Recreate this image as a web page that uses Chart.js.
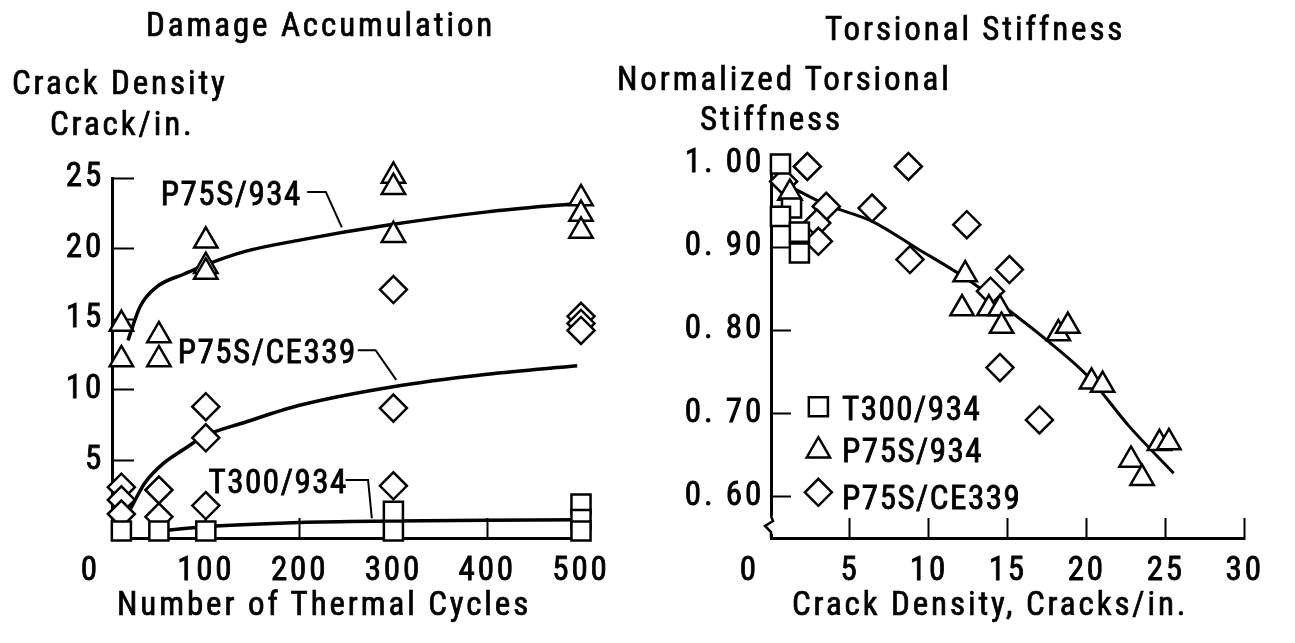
<!DOCTYPE html>
<html>
<head>
<meta charset="utf-8">
<script src="https://cdn.jsdelivr.net/npm/chart.js@4.4.1/dist/chart.umd.min.js"></script>
<style>
body { margin:0; background:#fff; width:1295px; height:643px; overflow:hidden; position:relative;
  font-family:Roboto, 'DejaVu Sans', sans-serif; font-stretch:condensed; }
canvas { position:absolute; top:0; }
#left { left:0; }
#right { left:640px; }
.txt { position:absolute; font-size:33px; line-height:30px; letter-spacing:2.9px; white-space:nowrap; color:#000;
  -webkit-text-stroke:0.7px #000; }
</style>
</head>
<body>
<canvas id="left" width="640" height="643"></canvas>
<canvas id="right" width="655" height="643"></canvas>
<div class="txt" style="left:146px; top:10px">Damage Accumulation</div>
<div class="txt" style="left:825px; top:14px">Torsional Stiffness</div>
<div class="txt" style="left:12px; top:68px">Crack Density</div>
<div class="txt" style="left:50px; top:109px">Crack/in.</div>
<div class="txt" style="left:617px; top:64px">Normalized Torsional</div>
<div class="txt" style="left:700px; top:104px">Stiffness</div>
<div class="txt" style="left:117px; top:589px">Number of Thermal Cycles</div>
<div class="txt" style="left:792px; top:589px">Crack Density, Cracks/in.</div>
<script>
// left panel: crack density vs thermal cycles
var t300Cycles = [10, 50, 100, 300, 300, 500, 500, 500];
var t300Density = [0, 0, 0, 1.4, 0, 1.9, 0.8, 0];
var p75Cycles = [10, 10, 50, 50, 100, 100, 100, 300, 300, 300, 500, 500, 500];
var p75Density = [14.65, 12.15, 13.85, 12.15, 20.55, 18.75, 18.35, 25.15, 24.35, 20.95, 23.55, 22.45, 21.25];
var ce339Cycles = [10, 10, 10, 50, 50, 100, 100, 100, 300, 300, 300, 500, 500, 500];
var ce339Density = [3.1, 2.2, 1.2, 2.9, 1.0, 8.8, 6.6, 1.8, 17.1, 8.7, 3.2, 15.2, 14.7, 14.2];

var p75FitCycles = [17, 30, 48, 77, 98, 142, 200, 298, 400, 496];
var p75FitDensity = [13.5, 15.9, 17.3, 18.2, 18.8, 19.8, 20.6, 21.7, 22.6, 23.2];
var ce339FitCycles = [20, 35, 55, 77, 98, 142, 200, 298, 400, 496];
var ce339FitDensity = [1.6, 3.4, 4.8, 5.8, 6.7, 7.7, 8.9, 10.2, 11.1, 11.7];
var t300FitCycles = [50, 100, 200, 300, 400, 500];
var t300FitDensity = [0, 0.3, 0.6, 0.7, 0.75, 0.8];

var cycleTicks = [100, 200, 300, 400, 500];
var densityTicks = [5, 10, 15, 20, 25];

// right panel: normalized stiffness vs crack density
var t300Crack = [0.6, 1.3, 0.6, 1.8, 1.8];
var t300Stiff = [1.00, 0.947, 0.937, 0.918, 0.893];
var p75Crack = [1.2, 12.3, 12.1, 13.8, 14.5, 14.6, 18.2, 18.8, 20.3, 21.0, 22.8, 23.5, 24.6, 25.2];
var p75Stiff = [0.965, 0.867, 0.826, 0.826, 0.826, 0.805, 0.796, 0.805, 0.738, 0.734, 0.644, 0.622, 0.664, 0.665];
var ce339Crack = [0.8, 2.3, 8.7, 3.5, 6.4, 2.9, 3.0, 12.4, 8.8, 15.1, 13.9, 14.5, 17.0];
var ce339Stiff = [0.979, 0.997, 0.997, 0.949, 0.947, 0.929, 0.907, 0.927, 0.885, 0.873, 0.847, 0.755, 0.692];
var stiffFitCrack = [1.0, 3.5, 6.4, 9.2, 12.3, 15.0, 17.6, 20.1, 22.7, 25.5];
var stiffFitValue = [0.975, 0.951, 0.931, 0.899, 0.863, 0.825, 0.786, 0.744, 0.684, 0.628];

var crackTicks = [5, 10, 15, 20, 25, 30];
var stiffTicks = [0.6, 0.7, 0.8, 0.9, 1.0];

var fontFamily = "Roboto, 'DejaVu Sans', sans-serif";
var fontWeight = 'condensed';   // goes into the canvas font shorthand
var canvasFont = fontWeight + ' 33px ' + fontFamily;
Chart.defaults.font.family = fontFamily;
Chart.defaults.font.weight = fontWeight;
Chart.defaults.font.size = 33;
Chart.defaults.color = '#000';

function pts(xs, ys) {
  return xs.map(function(x, i){ return {x: x, y: ys[i]}; });
}
function markerSet(label, xs, ys, style) {
  return {label: label, data: pts(xs, ys), pointStyle: style, pointRadius: 13.5, pointBorderWidth: 2.5,
    pointBorderColor: '#000', pointBackgroundColor: '#fff', showLine: false, clip: false, order: 0};
}
function fitSet(xs, ys, w) {
  return {type: 'line', data: pts(xs, ys), borderColor: '#000', borderWidth: w, pointRadius: 0,
    cubicInterpolationMode: 'monotone', fill: false, clip: false, order: 1};
}
function fixedTicks(list) {
  return function(s){ s.ticks = list.map(function(v){ return {value: v}; }); };
}
function axis(opts) {
  return Object.assign({
    type: 'linear',
    border: {display: true, color: '#000', width: 3}
  }, opts);
}
function drawText(ctx, text, x, y, align, gap) {
  ctx.save();
  ctx.font = canvasFont;
  if ('letterSpacing' in ctx) ctx.letterSpacing = (gap || 1.5) + 'px';
  ctx.fillStyle = '#000';
  ctx.strokeStyle = '#000';
  ctx.lineWidth = 0.8;
  ctx.textAlign = align || 'left';
  ctx.strokeText(text, x, y);
  ctx.fillText(text, x, y);
  ctx.restore();
}
// wider letter spacing like the lettering of the original
var spacing = {
  id: 'spacing',
  beforeDraw: function(chart) {
    if ('letterSpacing' in chart.ctx) chart.ctx.letterSpacing = '2.8px';
  }
};
// the shared "0" sits left of the y axis, on the x label row
var originLabel = {
  id: 'originLabel',
  afterDraw: function(chart) {
    var xs = chart.scales.x;
    var it = xs.getLabelItems()[0];
    var ctx = chart.ctx;
    ctx.save();
    ctx.textBaseline = it.options.textBaseline;
    drawText(ctx, '0', chart.chartArea.left - 23, it.options.translation[1] + it.textOffset, 'center', 0.01);
    ctx.restore();
  }
};

var leftNotes = [
  {text: 'P75S/934', x: 52, y: 23.1, leader: [[208, 24.0], [228, 24.0], [245, 21.5]]},
  {text: 'P75S/CE339', x: 70, y: 11.9, leader: [[262, 12.8], [281, 12.8], [303, 10.7]]},
  {text: 'T300/934', x: 103, y: 2.7, leader: [[249, 3.6], [273, 3.6], [277, 0.9]]}
];
var notesPlugin = {
  id: 'notes',
  afterDatasetsDraw: function(chart) {
    var ctx = chart.ctx, xs = chart.scales.x, ys = chart.scales.y;
    leftNotes.forEach(function(n){
      ctx.save();
      ctx.textBaseline = 'alphabetic';
      drawText(ctx, n.text, xs.getPixelForValue(n.x), ys.getPixelForValue(n.y));
      ctx.beginPath();
      n.leader.forEach(function(p, i){
        var px = xs.getPixelForValue(p[0]), py = ys.getPixelForValue(p[1]);
        if (i === 0) ctx.moveTo(px, py); else ctx.lineTo(px, py);
      });
      ctx.lineWidth = 2;
      ctx.strokeStyle = '#000';
      ctx.stroke();
      ctx.restore();
    });
  }
};
var tickText = {textStrokeColor: '#000', textStrokeWidth: 0.8, maxRotation: 0, autoSkip: false};

new Chart(document.getElementById('left'), {
  type: 'scatter',
  data: {
    datasets: [
      markerSet('T300/934', t300Cycles, t300Density, 'rect'),
      markerSet('P75S/934', p75Cycles, p75Density, 'triangle'),
      markerSet('P75S/CE339', ce339Cycles, ce339Density, 'rectRot'),
      fitSet(p75FitCycles, p75FitDensity, 3.5),
      fitSet(ce339FitCycles, ce339FitDensity, 3.5),
      fitSet(t300FitCycles, t300FitDensity, 3.5)
    ]
  },
  options: {
    responsive: false, animation: false, devicePixelRatio: 1, events: [],
    layout: {padding: {top: 178, right: 47, bottom: 0, left: 0}},
    plugins: {legend: {display: false}, tooltip: {enabled: false}},
    scales: {
      x: axis({min: 0, max: 506, afterBuildTicks: fixedTicks(cycleTicks),
        afterFit: function(s){ s.height = 105; },
        grid: {drawOnChartArea: false, drawTicks: true, tickLength: -20, tickWidth: 2, tickColor: '#000'},
        ticks: Object.assign({padding: 34}, tickText)}),
      y: axis({min: -0.5, max: 25, afterBuildTicks: fixedTicks(densityTicks),
        afterFit: function(s){ s.width = 112; },
        grid: {drawOnChartArea: false, drawTicks: true, tickLength: -22, tickWidth: 2, tickColor: '#000'},
        ticks: Object.assign({padding: 30}, tickText)})
    }
  },
  plugins: [spacing, originLabel, notesPlugin]
});

var rightLegend = [
  {text: 'T300/934', style: 'rect', my: 0.708, ty: 0.692},
  {text: 'P75S/934', style: 'triangle', my: 0.655, ty: 0.641},
  {text: 'P75S/CE339', style: 'rectRot', my: 0.605, ty: 0.585}
];
function drawMarker(ctx, style, x, y, r) {
  ctx.beginPath();
  if (style === 'rect') {
    var s = r * Math.SQRT1_2;
    ctx.rect(x - s, y - s, 2 * s, 2 * s);
  } else if (style === 'triangle') {
    ctx.moveTo(x, y - r);
    ctx.lineTo(x + r * 0.866, y + r / 2);
    ctx.lineTo(x - r * 0.866, y + r / 2);
    ctx.closePath();
  } else {
    ctx.moveTo(x - r, y); ctx.lineTo(x, y - r); ctx.lineTo(x + r, y); ctx.lineTo(x, y + r);
    ctx.closePath();
  }
  ctx.fillStyle = '#fff'; ctx.fill();
  ctx.lineWidth = 2.5; ctx.strokeStyle = '#000'; ctx.stroke();
}
var legendPlugin = {
  id: 'insideLegend',
  afterDatasetsDraw: function(chart) {
    var ctx = chart.ctx, xs = chart.scales.x, ys = chart.scales.y;
    rightLegend.forEach(function(l){
      ctx.save();
      drawMarker(ctx, l.style, xs.getPixelForValue(3.0), ys.getPixelForValue(l.my), 13.5);
      ctx.textBaseline = 'alphabetic';
      drawText(ctx, l.text, xs.getPixelForValue(4.5), ys.getPixelForValue(l.ty));
      ctx.restore();
    });
  }
};
// axis break near the bottom of the stiffness axis
var breakPlugin = {
  id: 'axisBreak',
  afterDraw: function(chart) {
    var ctx = chart.ctx, a = chart.chartArea;
    var x = a.left, b = a.bottom;
    ctx.save();
    ctx.fillStyle = '#fff';
    ctx.fillRect(x - 3, b - 22, 6, 18);
    ctx.beginPath();
    ctx.moveTo(x, b - 22);
    ctx.lineTo(x + 2, b - 17);
    ctx.lineTo(x - 6, b - 12);
    ctx.lineTo(x, b - 6);
    ctx.lineTo(x, b);
    ctx.lineWidth = 2.5;
    ctx.strokeStyle = '#000';
    ctx.stroke();
    ctx.restore();
  }
};

new Chart(document.getElementById('right'), {
  type: 'scatter',
  data: {
    datasets: [
      markerSet('T300/934', t300Crack, t300Stiff, 'rect'),
      markerSet('P75S/934', p75Crack, p75Stiff, 'triangle'),
      markerSet('P75S/CE339', ce339Crack, ce339Stiff, 'rectRot'),
      fitSet(stiffFitCrack, stiffFitValue, 3)
    ]
  },
  options: {
    responsive: false, animation: false, devicePixelRatio: 1, events: [],
    layout: {padding: {top: 164, right: 28, bottom: 0, left: 0}},
    plugins: {legend: {display: false}, tooltip: {enabled: false}},
    scales: {
      x: axis({min: 0, max: 30, afterBuildTicks: fixedTicks(crackTicks),
        afterFit: function(s){ s.height = 105; },
        grid: {drawOnChartArea: false, drawTicks: true, tickLength: -20, tickWidth: 2, tickColor: '#000'},
        ticks: Object.assign({padding: 34}, tickText)}),
      y: axis({min: 0.55, max: 1.0, afterBuildTicks: fixedTicks(stiffTicks),
        afterFit: function(s){ s.width = 131; },
        grid: {drawOnChartArea: false, drawTicks: true, tickLength: -20, tickWidth: 2, tickColor: '#000'},
        ticks: Object.assign({padding: 27,
          callback: function(v){ return v.toFixed(2).replace('.', '. '); }}, tickText)})
    }
  },
  plugins: [spacing, originLabel, legendPlugin, breakPlugin]
});
</script>
</body>
</html>
